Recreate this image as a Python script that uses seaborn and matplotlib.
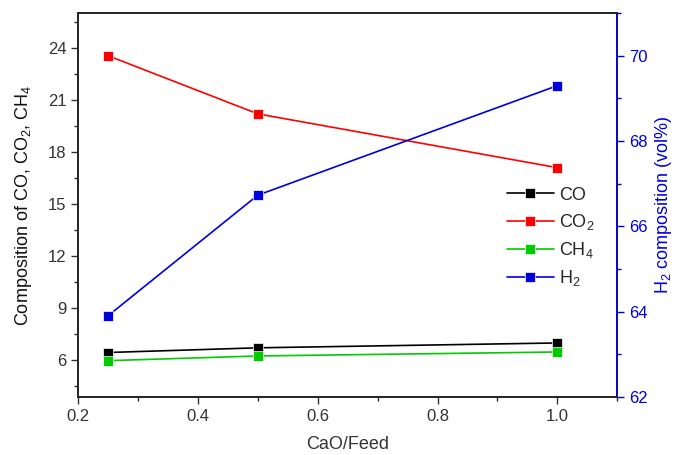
import numpy as np
import pandas as pd
import seaborn as sns
import matplotlib.pyplot as plt
from matplotlib.ticker import MultipleLocator

cao_feed = [0.25, 0.5, 1.0]
co = [6.45, 6.72, 7.0]
co2 = [23.55, 20.2, 17.1]
ch4 = [5.98, 6.25, 6.48]
h2 = [63.9, 66.73, 69.3]

sns.set_theme(style="white")
plt.rcParams['font.family'] = ['Liberation Sans', 'DejaVu Sans']
plt.rcParams['mathtext.fontset'] = 'custom'
plt.rcParams['mathtext.rm'] = 'Liberation Sans'
plt.rcParams['mathtext.it'] = 'Liberation Sans'

left = pd.DataFrame({
    'x': cao_feed * 3,
    'y': co + co2 + ch4,
    'gas': ['CO'] * 3 + ['CO$_2$'] * 3 + ['CH$_4$'] * 3,
})
right = pd.DataFrame({'x': cao_feed, 'y': h2, 'gas': ['H$_2$'] * 3})

fig, ax = plt.subplots(figsize=(6.79, 4.55), dpi=100)
fig.subplots_adjust(left=0.115, right=0.909, top=0.971, bottom=0.128)
ax2 = ax.twinx()

palette = {'CO': '#000000', 'CO$_2$': '#ff0000', 'CH$_4$': '#00cc00'}
sns.lineplot(data=left, x='x', y='y', hue='gas', palette=palette, marker='s',
             markersize=7, markeredgecolor='white', markeredgewidth=0.5,
             linewidth=1.2, ax=ax, legend=False)
sns.lineplot(data=right, x='x', y='y', hue='gas', palette={'H$_2$': '#0000dd'},
             marker='s', markersize=7, markeredgecolor='white', markeredgewidth=0.5,
             linewidth=1.2, ax=ax2, legend=False)

ax.set_xlim(0.2, 1.1)
ax.set_ylim(3.9, 26)
ax2.set_ylim(62, 71)

ax.xaxis.set_major_locator(MultipleLocator(0.2))
ax.xaxis.set_minor_locator(MultipleLocator(0.1))
ax.yaxis.set_major_locator(MultipleLocator(3))
ax.yaxis.set_minor_locator(MultipleLocator(1.5))
ax2.yaxis.set_major_locator(MultipleLocator(2))
ax2.yaxis.set_minor_locator(MultipleLocator(1))
ax.set_xticks([0.2, 0.4, 0.6, 0.8, 1.0])
ax.set_xticklabels(['0.2', '0.4', '0.6', '0.8', '1.0'])
ax.set_yticks([6, 9, 12, 15, 18, 21, 24])

ax.tick_params(axis='both', which='major', direction='out', length=5, width=1,
               labelsize=12, colors='#333333', bottom=True, left=True)
ax.tick_params(axis='both', which='minor', direction='out', length=3, width=1,
               bottom=True, left=True)
ax2.tick_params(axis='y', which='major', direction='out', length=5, width=1,
                labelsize=12, colors='#0000dd', right=True)
ax2.tick_params(axis='y', which='minor', direction='out', length=3, width=1,
                colors='#0000dd', right=True)

for a in (ax, ax2):
    for s in a.spines.values():
        s.set_color('#222222')
        s.set_linewidth(1.2)
ax2.spines['right'].set_color('#0000dd')

ax.set_xlabel('CaO/Feed', fontsize=13, color='#333333', labelpad=9)
ax.set_ylabel('Composition of CO, CO$_2$, CH$_4$', fontsize=13, color='#111111',
              labelpad=10)
ax2.set_ylabel('H$_2$ composition (vol%)', fontsize=13, color='#0000dd')

handles = []
labels = []
for name, col in [('CO', '#000000'), ('CO$_2$', '#ff0000'),
                  ('CH$_4$', '#00cc00'), ('H$_2$', '#0000dd')]:
    h, = ax.plot([], [], color=col, marker='s', markersize=7,
                 markeredgecolor='white', markeredgewidth=0.5, linewidth=1.2)
    handles.append(h)
    labels.append(name)
ax.legend(handles, labels, loc='upper left', bbox_to_anchor=(0.765, 0.59),
          frameon=False, fontsize=13, handlelength=2.6, labelspacing=0.45,
          handletextpad=0.3)

plt.savefig('out.png', dpi=100)
